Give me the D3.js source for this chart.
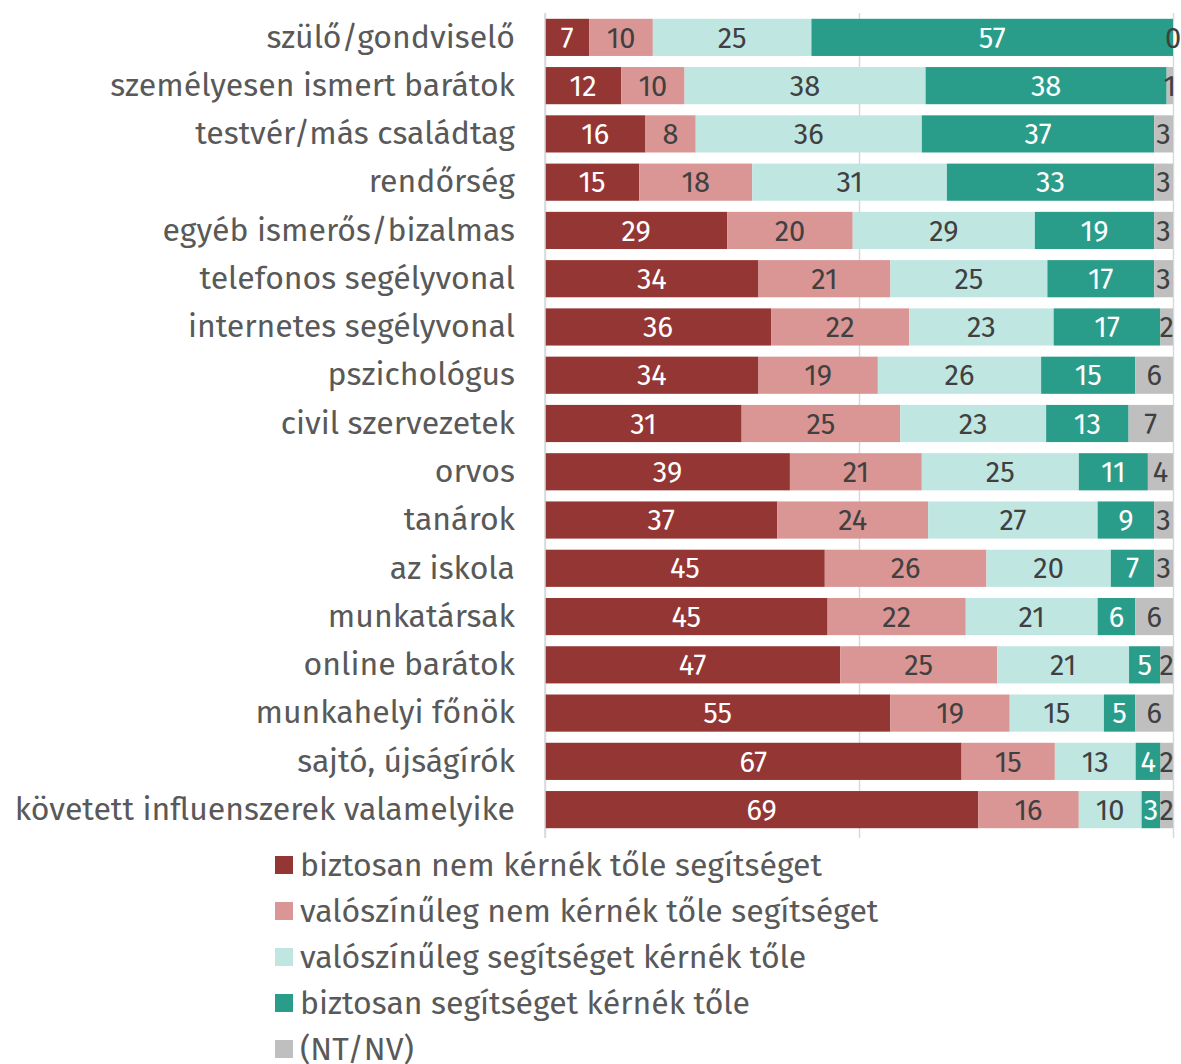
<!DOCTYPE html>
<html>
<head>
<meta charset="utf-8">
<script src="https://cdn.jsdelivr.net/npm/d3@7"></script>
<style>
  body { margin: 0; background: #fff; }
  text { font-family: "Fira Sans", "Open Sans", "Noto Sans", sans-serif; }
</style>
</head>
<body>
<div id="chart"></div>
<script>
const categories = [
  'szülő/gondviselő', 'személyesen ismert barátok', 'testvér/más családtag', 'rendőrség',
  'egyéb ismerős/bizalmas', 'telefonos segélyvonal', 'internetes segélyvonal', 'pszichológus',
  'civil szervezetek', 'orvos', 'tanárok', 'az iskola', 'munkatársak', 'online barátok',
  'munkahelyi főnök', 'sajtó, újságírók', 'követett influenszerek valamelyike'
];
const seriesNames = [
  'biztosan nem kérnék tőle segítséget',
  'valószínűleg nem kérnék tőle segítséget',
  'valószínűleg segítséget kérnék tőle',
  'biztosan segítséget kérnék tőle',
  '(NT/NV)'
];
const definitelyNot = [7, 12, 16, 15, 29, 34, 36, 34, 31, 39, 37, 45, 45, 47, 55, 67, 69];
const probablyNot   = [10, 10, 8, 18, 20, 21, 22, 19, 25, 21, 24, 26, 22, 25, 19, 15, 16];
const probablyYes   = [25, 38, 36, 31, 29, 25, 23, 26, 23, 25, 27, 20, 21, 21, 15, 13, 10];
const definitelyYes = [57, 38, 37, 33, 19, 17, 17, 15, 13, 11, 9, 7, 6, 5, 5, 4, 3];
const dontKnow      = [0, 1, 3, 3, 3, 3, 2, 6, 7, 4, 3, 3, 6, 2, 6, 2, 2];

const colors = ['#943634', '#d99694', '#c0e6e2', '#2a9d8a', '#bfbfbf'];
const labelColors = ['#ffffff', '#404040', '#404040', '#ffffff', '#404040'];

const series = [definitelyNot, probablyNot, probablyYes, definitelyYes, dontKnow];
const rows = categories.map((c, i) => {
  const r = { cat: c };
  series.forEach((s, k) => { r['s' + k] = s[i]; });
  return r;
});
const keys = series.map((s, k) => 's' + k);

const W = 1181, H = 1064;
const margin = { top: 13, right: 8, bottom: 230, left: 545 };
const width = W - margin.left - margin.right;
const height = H - margin.top - margin.bottom;

const svg = d3.select('#chart').append('svg')
  .attr('width', W).attr('height', H);
const g = svg.append('g').attr('transform', `translate(${margin.left},${margin.top})`);

// shares of each row (rounded values, so rows are stretched to 100%)
const x = d3.scaleLinear().domain([0, 1]).range([0, width]);
const y = d3.scaleBand().domain(categories).range([0, height]).paddingInner(0.23).paddingOuter(0.12);

// gridlines
g.append('g')
  .call(d3.axisBottom(x).tickValues([0, 0.5, 1]).tickSize(height + 4).tickFormat(''))
  .call(a => a.select('.domain').remove())
  .selectAll('line').attr('stroke', '#d9d9d9').attr('stroke-width', 1.5);

const stacked = d3.stack().keys(keys).offset(d3.stackOffsetExpand)(rows);

const layers = g.selectAll('.layer').data(stacked).enter().append('g')
  .attr('class', 'layer').attr('fill', (d, k) => colors[k]);

layers.selectAll('rect').data(d => d).enter().append('rect')
  .attr('x', d => x(d[0]))
  .attr('y', d => y(d.data.cat))
  .attr('width', d => x(d[1]) - x(d[0]))
  .attr('height', y.bandwidth());

layers.each(function (layer, k) {
  d3.select(this).selectAll('text').data(layer).enter().append('text')
    .attr('x', d => (x(d[0]) + x(d[1])) / 2)
    .attr('y', d => y(d.data.cat) + y.bandwidth() / 2)
    .attr('dy', '0.35em')
    .attr('text-anchor', 'middle')
    .attr('fill', labelColors[k])
    .style('font-size', '29px')
    .text(d => d.data[keys[k]]);
});

// left axis line
g.append('line').attr('x1', 0).attr('x2', 0).attr('y1', 0).attr('y2', height + 4)
  .attr('stroke', '#d9d9d9').attr('stroke-width', 1.5);

// category labels
const yAxis = g.append('g').call(d3.axisLeft(y).tickSize(0).tickPadding(30));
yAxis.select('.domain').remove();
yAxis.selectAll('text').attr('fill', '#595959').style('font-size', '32px')
  .style('font-family', '"Fira Sans", "Open Sans", "Noto Sans", sans-serif');

// legend
const legend = svg.append('g').attr('transform', 'translate(275,865)');
const items = legend.selectAll('g').data(seriesNames).enter().append('g')
  .attr('transform', (d, i) => `translate(0,${i * 46})`);
items.append('rect').attr('x', 0).attr('y', -9).attr('width', 18).attr('height', 18)
  .attr('fill', (d, i) => colors[i]);
items.append('text').attr('x', 25).attr('dy', '0.35em')
  .attr('fill', '#595959').style('font-size', '32px').text(d => d);
</script>
</body>
</html>
